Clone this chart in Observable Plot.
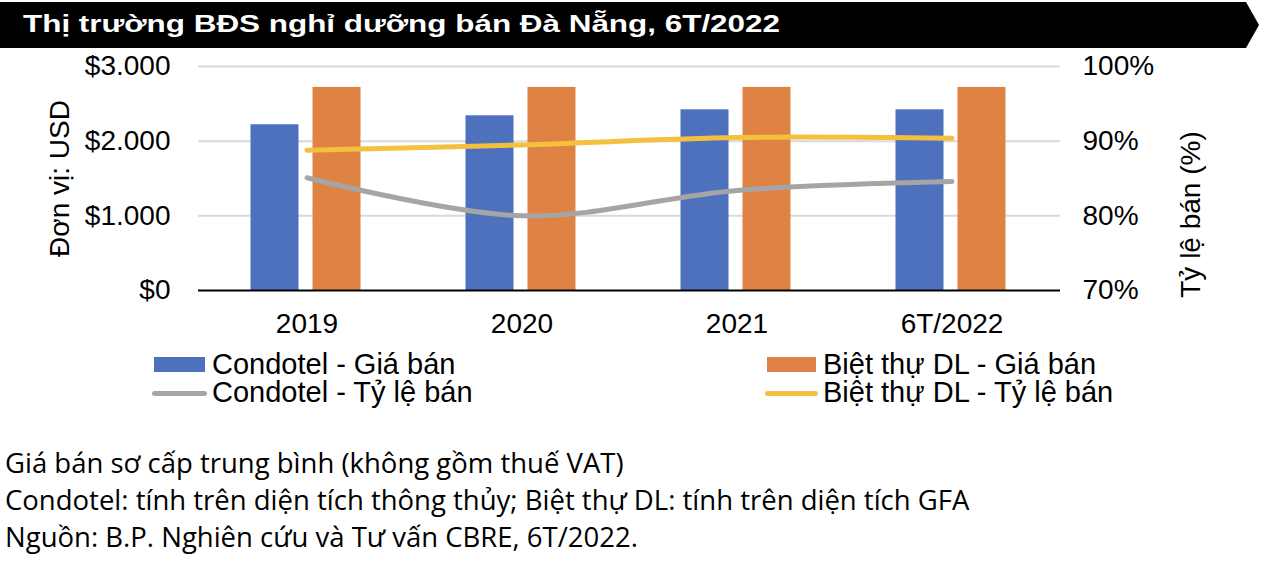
<!DOCTYPE html>
<html>
<head>
<meta charset="utf-8">
<script src="https://cdn.jsdelivr.net/npm/d3@7"></script>
<script src="https://cdn.jsdelivr.net/npm/@observablehq/plot@0.6"></script>
<style>
  html, body { margin: 0; padding: 0; background: #fff; }
  #root { position: relative; width: 1262px; height: 566px; overflow: hidden; font-family: "Liberation Sans", Arial, sans-serif; color: #000; }
  #banner { position: absolute; left: 0; top: 0; }
  #chart { position: absolute; left: 0; top: 50px; }
  .lg { position: absolute; font-size: 29px; line-height: 27px; white-space: nowrap; }
  .sw { position: absolute; }
  .fn { position: absolute; left: 5px; font-family: "Open Sans", sans-serif; font-size: 27.5px; white-space: nowrap; line-height: 30px; }
</style>
</head>
<body>
<div id="root">
  <svg id="banner" width="1262" height="50">
    <polygon points="0,2 1246,2 1259,25 1246,48 0,48" fill="#000"></polygon>
    <text x="23" y="32" fill="#fff" font-family="Liberation Sans, Arial, sans-serif" font-weight="bold" font-size="24" textLength="757" lengthAdjust="spacingAndGlyphs">Thị trường BĐS nghỉ dưỡng bán Đà Nẵng, 6T/2022</text>
  </svg>
  <div id="chart"></div>
  <div class="sw" style="left:154px; top:357px; width:51px; height:15px; background:#4E71BE"></div>
  <div class="lg" style="left:212px; top:351px">Condotel - Giá bán</div>
  <div class="sw" style="left:767px; top:357px; width:49px; height:15px; background:#DF8344"></div>
  <div class="lg" style="left:823px; top:351px">Biệt thự DL - Giá bán</div>
  <div class="sw" style="left:152px; top:391px; width:55px; height:5px; border-radius:3px; background:#A5A5A5"></div>
  <div class="lg" style="left:212px; top:379px">Condotel - Tỷ lệ bán</div>
  <div class="sw" style="left:765px; top:391px; width:53px; height:5px; border-radius:3px; background:#F4C13F"></div>
  <div class="lg" style="left:823px; top:379px">Biệt thự DL - Tỷ lệ bán</div>
  <div class="fn" style="top:448px">Giá bán sơ cấp trung bình (không gồm thuế VAT)</div>
  <div class="fn" style="top:485px">Condotel: tính trên diện tích thông thủy; Biệt thự DL: tính trên diện tích GFA</div>
  <div class="fn" style="top:522px">Nguồn: B.P. Nghiên cứu và Tư vấn CBRE, 6T/2022.</div>
</div>
<script>
// ---- Data ----
const categories = ["2019", "2020", "2021", "6T/2022"];
const condotelPrice = [2220, 2340, 2420, 2420];   // USD
const villaPrice = [2720, 2720, 2720, 2720];      // USD
const condotelRate = [85.1, 80.0, 83.4, 84.6];    // %
const villaRate = [88.8, 89.5, 90.5, 90.4];       // %
const priceTicks = [0, 1000, 2000, 3000];
const rateTicks = [70, 80, 90, 100];

// ---- Table built from arrays ----
const table = categories.map((c, i) => ({
  category: c,
  condotelPrice: condotelPrice[i],
  villaPrice: villaPrice[i],
  condotelRate: condotelRate[i],
  villaRate: villaRate[i]
}));

// secondary axis mapping: 70%..100% -> 0..3000
const rateMin = rateTicks[0], rateMax = rateTicks[rateTicks.length - 1];
const priceMax = priceTicks[priceTicks.length - 1];
const rateToY = (r) => (r - rateMin) / (rateMax - rateMin) * priceMax;
const yToRate = (v) => rateMin + v / priceMax * (rateMax - rateMin);

const locale = d3.formatLocale({decimal: ",", thousands: ".", grouping: [3], currency: ["$", ""]});
const fmtPrice = locale.format("$,.0f");

const chart = Plot.plot({
  width: 1262,
  height: 290,
  marginTop: 16,
  marginBottom: 50,
  marginLeft: 198,
  marginRight: 202,
  style: {fontFamily: "Liberation Sans, Arial, sans-serif", fontSize: "28px", color: "#000", background: "transparent", overflow: "visible"},
  x: {domain: categories, padding: 0},
  y: {domain: [0, priceMax]},
  marks: [
    Plot.gridY(priceTicks.slice(1), {stroke: "#D9D9D9", strokeOpacity: 1, strokeWidth: 2}),
    Plot.barY(table, {x: "category", y: "condotelPrice", fill: "#4E71BE", insetLeft: 51.5, insetRight: 115.5}),
    Plot.barY(table, {x: "category", y: "villaPrice", fill: "#DF8344", insetLeft: 113.5, insetRight: 53.5}),
    Plot.ruleY([0], {stroke: "#000", strokeWidth: 2}),
    Plot.line(table, {x: "category", y: d => rateToY(d.condotelRate), stroke: "#A5A5A5", strokeWidth: 5, strokeLinecap: "round", curve: "catmull-rom"}),
    Plot.line(table, {x: "category", y: d => rateToY(d.villaRate), stroke: "#F4C13F", strokeWidth: 5, strokeLinecap: "round", curve: "catmull-rom"}),
    Plot.axisY(priceTicks, {anchor: "left", tickSize: 0, tickPadding: 28, tickFormat: fmtPrice, fontSize: 28, label: null}),
    Plot.axisY(rateTicks.map(rateToY), {anchor: "right", tickSize: 0, tickPadding: 22, tickFormat: v => `${Math.round(yToRate(v))}%`, fontSize: 28, label: null}),
    Plot.axisX({tickSize: 0, tickPadding: 23, fontSize: 28, label: null}),
    Plot.text(["Đơn vị: USD"], {frameAnchor: "left", textAnchor: "middle", dx: -138, rotate: -90, fontSize: 28}),
    Plot.text(["Tỷ lệ bán (%)"], {frameAnchor: "right", textAnchor: "middle", dx: 131, dy: 36, rotate: -90, fontSize: 28})
  ]
});
document.getElementById("chart").appendChild(chart);
</script>
</body>
</html>
